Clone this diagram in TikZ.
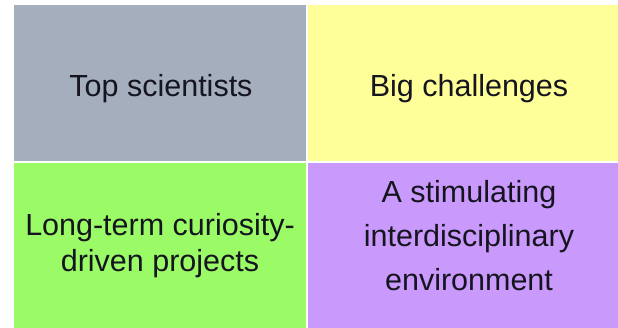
\documentclass[tikz,border=0pt]{standalone}
\usepackage{fontspec}
\setmainfont{Liberation Sans}
\definecolor{cgray}{HTML}{A5AEBD}
\definecolor{cyellow}{HTML}{FFFF99}
\definecolor{cgreen}{HTML}{9AFB66}
\definecolor{cpurple}{HTML}{CA99FC}
\definecolor{ctext}{HTML}{15151F}
\begin{document}
\begin{tikzpicture}[x=1pt,y=-1pt,
  quad/.style={draw=none,inner sep=0pt,outer sep=0pt},
  lbl/.style={inner sep=0pt,outer sep=0pt,text=ctext,align=center}]
\useasboundingbox[fill=white] (0,0) rectangle (618,328);
\path[fill=cgray]   (14,5)    rectangle (306,161) coordinate (tl);
\path[fill=cyellow] (308,5)   rectangle (618,161) coordinate (tr);
\path[fill=cgreen]  (14,163)  rectangle (306,328) coordinate (bl);
\path[fill=cpurple] (308,163) rectangle (618,328) coordinate (br);
\node[lbl,anchor=base,font=\fontsize{30.5}{36}\selectfont] (t1) at (161,97) {Top scientists};
\node[lbl,anchor=base,font=\fontsize{30.5}{36}\selectfont] (t2) at (469,97) {Big challenges};
\node[lbl,anchor=center,font=\fontsize{30.5}{36}\selectfont] (t3) at (160,246) {Long-term curiosity-\\driven projects};
\node[lbl,anchor=center,font=\fontsize{30.5}{44}\selectfont] (t4) at (469,235.5) {A stimulating\\interdisciplinary\\environment};
\end{tikzpicture}
\end{document}
